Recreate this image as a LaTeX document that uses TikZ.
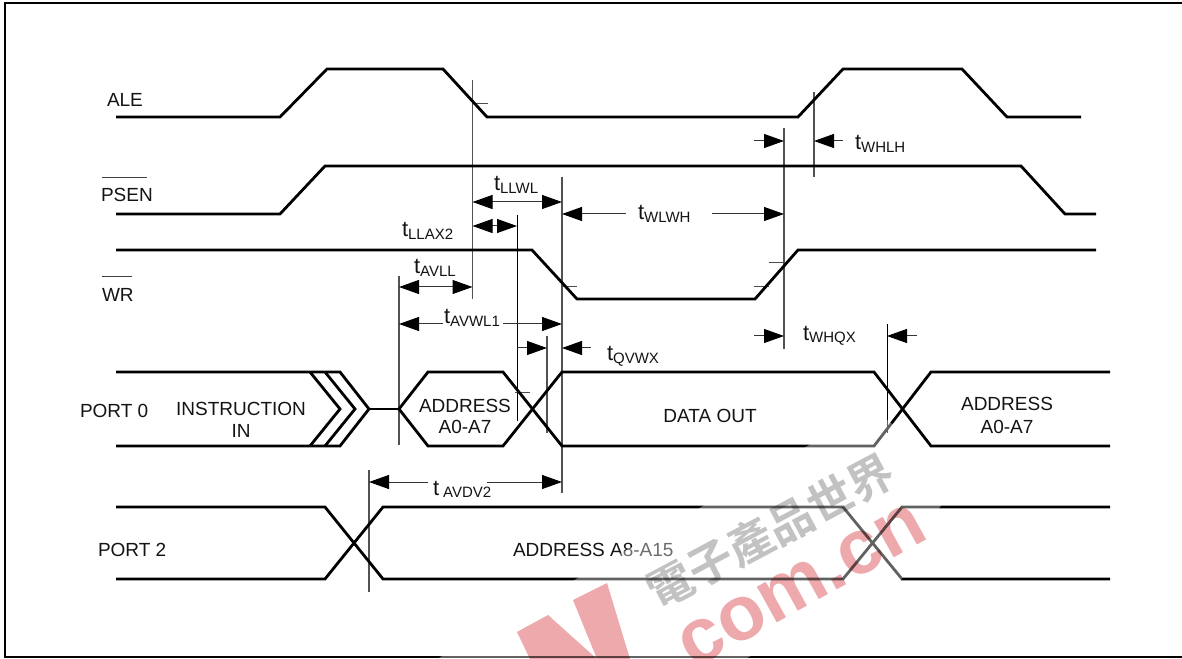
\documentclass[tikz,border=0pt]{standalone}
\usepackage{fontspec}
\setmainfont{Liberation Sans}
\newfontfamily\cjkwm{Noto Sans CJK TC}[BoldFont={* Bold}]
\usetikzlibrary{arrows.meta}
\newcommand{\subt}[1]{\raisebox{-2pt}{\fontsize{11.25}{11.25}\selectfont #1}}
\tikzset{
  px/.style={x=0.75pt,y=-0.75pt},
  signal/.style={line width=2.1pt,line join=miter,black},
  frameline/.style={line width=1.7pt,black},
  guide/.style={line width=1pt,black!68},
  guidek/.style={line width=0.75pt,black},
  ticks/.style={line width=0.75pt,black!70},
  dimline/.style={line width=0.75pt,black!80,>={Triangle[length=15pt,width=10.5pt,color=black]}},
  lab/.style={inner sep=0pt,outer sep=0pt,font=\fontsize{14.25}{14.25}\selectfont,text=black!92},
  labw/.style={lab,anchor=base west},
  labc/.style={lab,anchor=base},
  tlab/.style={labw,font=\fontsize{16.5}{16.5}\selectfont},
  overbar/.style={line width=0.75pt,black!75},
}
\definecolor{wmpink}{HTML}{EDA9AC}
\definecolor{wmgrey}{HTML}{C2C2C2}
\begin{document}
\begin{tikzpicture}[px]
\useasboundingbox (0,0) rectangle (1182,659);
\fill[white] (0,0) rectangle (1182,659);
% frame
\draw[frameline] (1182,3) -- (5,3) -- (5,657) -- (1182,657);

% guide lines
\coordinate (gA) at (399,0);
\coordinate (gB) at (472.5,0);
\coordinate (gC) at (517,0);
\coordinate (gD) at (547,0);
\coordinate (gE) at (562,0);
\coordinate (gF) at (369,0);
\coordinate (gG) at (784,0);
\coordinate (gH) at (814,0);
\coordinate (gI) at (887,0);
\draw[guide] (gA |- 0,276) -- (gA |- 0,445);
\draw[guide] (gB |- 0,80) -- (gB |- 0,299);
\draw[guidek] (gC |- 0,215) -- (gC |- 0,421);
\draw[guide] (gD |- 0,336) -- (gD |- 0,433);
\draw[guide] (gE |- 0,177) -- (gE |- 0,493);
\draw[guide] (gF |- 0,470) -- (gF |- 0,592);
\draw[guide] (gG |- 0,128) -- (gG |- 0,349);
\draw[guide] (gH |- 0,92) -- (gH |- 0,177);
\draw[guidek] (gI |- 0,324) -- (gI |- 0,433);
% ticks
\draw[ticks] (gB |- 0,104) -- (488,104);
\draw[ticks] (gE |- 0,287) -- (577,287);
\draw[ticks] (515,392) -- (530,392);
\draw[ticks] (769,263) -- (gG |- 0,263);
\draw[ticks] (754,287) -- (769,287);

% signals
\draw[signal] (116,117) -- (280,117) -- (327,69) -- (443,69) -- (487,117) -- (798,117) -- (843,69) -- (962,69) -- (1007,117) -- (1081,117);
\draw[signal] (116,214) -- (280,214) -- (325,166) -- (1021,166) -- (1065,214) -- (1096,214);
\draw[signal] (116,250) -- (532,250) -- (577,299) -- (755,299) -- (798,250) -- (1096,250);
% port 0
\draw[signal] (116,372) -- (340,372) -- (369,409) -- (340,446) -- (116,446);
\draw[signal] (310,372) -- (340,409) -- (310,446);
\draw[signal] (325,372) -- (355,409) -- (325,446);
\draw[signal] (369,409) -- (399,409);
\draw[signal] (399,409) -- (428,372) -- (503,372) -- (562,446) -- (874,446) -- (931,372) -- (1110,372);
\draw[signal] (399,409) -- (428,446) -- (503,446) -- (562,372) -- (874,372) -- (931,446) -- (1110,446);
% port 2
\draw[signal] (116,507) -- (325,507) -- (383,579) -- (843,579) -- (902,507) -- (1110,507);
\draw[signal] (116,579) -- (325,579) -- (383,507) -- (843,507) -- (902,579) -- (1110,579);

% dimension arrows
\draw[dimline,<->] (gB |- 0,202) -- (gE |- 0,202);
\draw[dimline,<->] (gB |- 0,226) -- (gC |- 0,226);
\draw[dimline,<-] (gE |- 0,214) -- (626,214);
\draw[dimline,->] (712,214) -- (gG |- 0,214);
\draw[dimline,<->] (gA |- 0,287) -- (gB |- 0,287);
\draw[dimline,<-] (gA |- 0,324) -- (443,324);
\draw[dimline,->] (503,324) -- (gE |- 0,324);
\draw[dimline,->] (gC |- 0,348) -- (gD |- 0,348);
\draw[dimline,<-] (gE |- 0,348) -- (591,348);
\draw[dimline,<-] (gF |- 0,482) -- (428,482);
\draw[dimline,->] (487,482) -- (gE |- 0,482);
\draw[dimline,->] (754,141) -- (gG |- 0,141);
\draw[dimline,<-] (gH |- 0,141) -- (843,141);
\draw[dimline,->] (754,336) -- (gG |- 0,336);
\draw[dimline,<-] (gI |- 0,336) -- (917,336);

% signal names
\node[labw] (ale) at (107,107) {ALE};
\node[labw] (psen) at (101,202) {PSEN};
\node[labw] (wr) at (102,302) {WR};
\node[labw] (port0) at (80,417) {PORT 0};
\node[labw] (port2) at (98,556) {PORT 2};
\draw[overbar] (102,178) -- (147,178);
\draw[overbar] (102,277) -- (132,277);

% bus contents
\node[labc] (instr1) at (241,415) {INSTRUCTION};
\node[labc] (instr2) at (241,437) {IN};
\node[labc] (addr1) at (465,412) {ADDRESS};
\node[labc] (addr2) at (465,433) {A0-A7};
\node[labc] (data) at (710,422) {DATA OUT};
\node[labc] (addr3) at (1007,410) {ADDRESS};
\node[labc] (addr4) at (1007,433) {A0-A7};
\node[labw] (addr5) at (513,556) {ADDRESS A8-A15};

% timing labels
\node[tlab] (tllwl) at (494,191) {t\subt{LLWL}};
\node[tlab] (tllax) at (402,237) {t\subt{LLAX2}};
\node[tlab] (tavll) at (414,274) {t\subt{AVLL}};
\node[tlab] (tavwl) at (444,324) {t\subt{AVWL1}};
\node[tlab] (tqvwx) at (607,361) {t\subt{QVWX}};
\node[tlab] (tavdv) at (433,495) {t\hspace{3pt}\subt{AVDV2}};
\node[tlab] (twlwh) at (638,220) {t\subt{WLWH}};
\node[tlab] (twhlh) at (855,150) {t\subt{WHLH}};
\node[tlab] (twhqx) at (803,340) {t\subt{WHQX}};

% watermark
\fill[white,opacity=0.38] (437,659) -- (830,433) -- (885,418) -- (960,480) -- (940,507) -- (902,579) -- (745,659) -- cycle;
\begin{scope}[blend mode=multiply]
\begin{scope}
\clip (0,0) rectangle (1182,659);
\fill[wmpink] (517,632) -- (548,615) -- (597,659) -- (530,659) -- cycle;
\fill[wmpink] (573,600) -- (607,583) -- (630,659) -- (597,659) -- cycle;
\node[inner sep=0pt,rotate=29,text=wmpink,font=\fontsize{58}{58}\selectfont\bfseries] (wmcom) at (793,591) {.com.cn};
\node[inner sep=0pt,rotate=28,text=wmgrey,font=\cjkwm\fontsize{34}{34}\selectfont\bfseries] (wmcjk) at (770,531) {電子產品世界};
\end{scope}
\end{scope}
\end{tikzpicture}
\end{document}
